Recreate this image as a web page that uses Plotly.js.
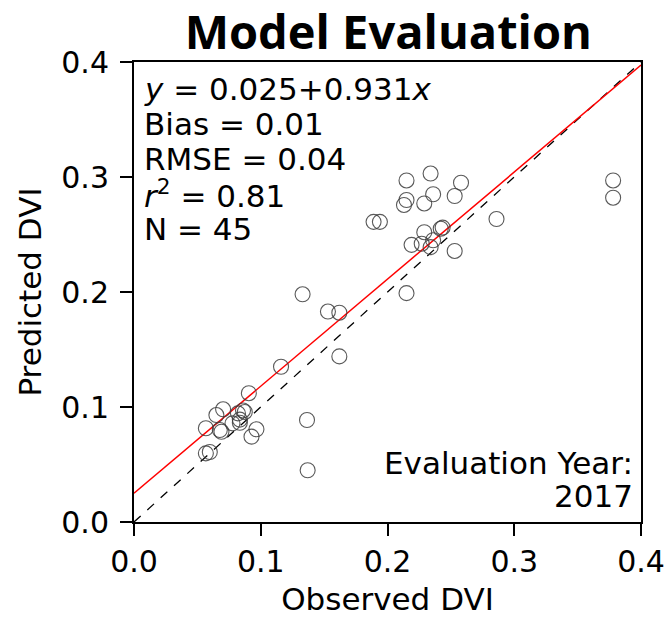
<!DOCTYPE html>
<html>
<head>
<meta charset="utf-8">
<script src="https://cdn.plot.ly/plotly-3.0.1.min.js"></script>
<style>html,body{margin:0;padding:0;background:#fff;}#chart{width:666px;height:623px;}</style>
</head>
<body>
<div id="chart"></div>
<script>
// Observed / predicted DVI
const observed = [0.116,0.0906,0.0703,0.065,0.086,0.0874,0.082,0.0567,0.0677,0.069,0.0777,0.0835,0.0835,0.0966,0.0927,0.0567,0.0598,0.1365,0.137,0.133,0.153,0.162,0.162,
  0.215,0.234,0.258,0.215,0.213,0.236,0.253,0.229,0.189,0.194,0.229,0.2435,0.242,0.286,0.219,0.227,0.236,0.234,0.253,0.215,0.378,0.378];
const predicted = [0.135,0.112,0.098,0.093,0.097,0.0957,0.0945,0.0815,0.080,0.0785,0.0858,0.0863,0.089,0.0806,0.0742,0.0597,0.0609,0.0887,0.045,0.198,0.183,0.182,0.144,
  0.297,0.303,0.295,0.280,0.2757,0.285,0.2835,0.277,0.261,0.261,0.252,0.256,0.255,0.2635,0.241,0.242,0.245,0.239,0.2357,0.199,0.297,0.282];
const lineX = [0, 0.4];
const intercept = 0.025, slope = 0.931;
const fitY = lineX.map(v => intercept + slope * v);
const statLines = ["<i>y</i> = 0.025+0.931<i>x</i>", "Bias = 0.01", "RMSE = 0.04", "<i>r</i><sup>2</sup> = 0.81", "N = 45"];
const yearLines = ["Evaluation Year:", "2017"];
const ticks = [0, 0.1, 0.2, 0.3, 0.4];

const traces = [
  {x: lineX, y: lineX, mode: 'lines', line: {color: 'black', dash: 'dash', width: 1.3}, hoverinfo: 'skip'},
  {x: lineX, y: fitY, mode: 'lines', line: {color: 'red', width: 1.5}, hoverinfo: 'skip'},
  {x: observed, y: predicted, mode: 'markers', marker: {symbol: 'circle-open', size: 15, color: 'rgba(60,60,60,0.85)', line: {width: 1.1}}}
];

const font = {family: 'DejaVu Sans', size: 31, color: 'black'};
const tickFont = {family: 'DejaVu Sans', size: 30, color: 'black'};
const annotations = [];
statLines.forEach((t, i) => annotations.push({
  text: t, xref: 'paper', yref: 'paper', x: 0.016, y: 1 - (27 + i * 35) / 460,
  xanchor: 'left', yanchor: 'middle', showarrow: false, font: font
}));
yearLines.forEach((t, i) => annotations.push({
  text: t, xref: 'paper', yref: 'paper', x: 0.988, y: 1 - (401 + i * 33) / 460,
  xanchor: 'right', yanchor: 'middle', showarrow: false, font: font
}));

const axisBase = {
  range: [0, 0.4], tickvals: ticks, ticktext: ticks.map(v => v.toFixed(1)),
  showgrid: false, zeroline: false, showline: true, linecolor: 'black', linewidth: 2,
  mirror: true, ticks: 'outside', ticklen: 12, tickwidth: 2, tickcolor: 'black',
  tickfont: tickFont
};

const layout = {
  width: 666, height: 623,
  margin: {l: 134, r: 25, t: 62, b: 101},
  paper_bgcolor: 'white', plot_bgcolor: 'white',
  showlegend: false,
  title: {text: '<b>Model Evaluation</b>', font: {family: 'Open Sans', size: 47, color: 'black'}, x: 0.583, xanchor: 'center', y: 0.947, yanchor: 'middle'},
  xaxis: Object.assign({}, axisBase, {title: {text: 'Observed DVI', font: font, standoff: 10}}),
  yaxis: Object.assign({}, axisBase, {ticklabelstandoff: 5, title: {text: 'Predicted DVI', font: font, standoff: 10}}),
  annotations: annotations
};

Plotly.newPlot('chart', traces, layout, {displayModeBar: false, staticPlot: true});
</script>
</body>
</html>
